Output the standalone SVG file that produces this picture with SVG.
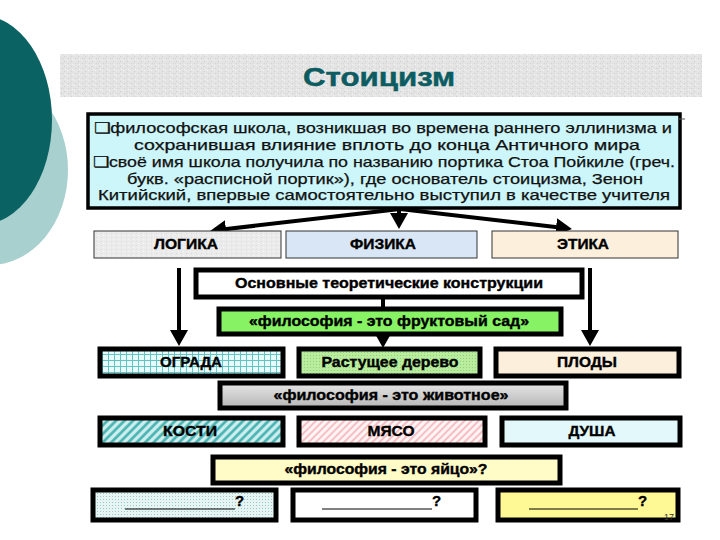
<svg xmlns="http://www.w3.org/2000/svg" width="720" height="540" viewBox="0 0 720 540">
<defs>
<style>
.lbl{font-family:"Liberation Sans",Arial,sans-serif;font-weight:bold;font-size:14px;fill:#000;stroke:#000;stroke-width:0.35;text-anchor:middle}
.q{font-family:"Liberation Sans",Arial,sans-serif;font-weight:bold;font-size:15px;fill:#000;stroke:#000;stroke-width:0.35}
.body{font-family:"Liberation Sans",Arial,sans-serif;font-size:14.5px;fill:#111;stroke:#111;stroke-width:0.25;text-anchor:middle}
.thick{stroke:#000;stroke-width:5}
.thin{stroke:#333;stroke-width:1}
.arr{stroke:#000;stroke-width:4;fill:none;marker-end:url(#ah)}
.ul{stroke:#000;stroke-width:1}
</style>
<marker id="ah" markerUnits="userSpaceOnUse" markerWidth="16" markerHeight="18" refX="8" refY="9" orient="auto">
<path d="M0,0 L16,9 L0,18 z" fill="#000"/>
</marker>
<pattern id="noise" width="7" height="5" patternUnits="userSpaceOnUse">
<rect width="7" height="5" fill="#e4e4e4"/>
<rect x="1" y="1" width="1" height="1" fill="#d0d0d0"/>
<rect x="4" y="0" width="1" height="1" fill="#f3f3f3"/>
<rect x="5" y="3" width="1" height="1" fill="#d3d3d3"/>
<rect x="2" y="4" width="1" height="1" fill="#f5f5f5"/>
<rect x="0" y="3" width="1" height="1" fill="#d7d7d7"/>
</pattern>
<pattern id="noise2" width="5" height="4" patternUnits="userSpaceOnUse">
<rect width="5" height="4" fill="#ebebeb"/>
<rect x="1" y="1" width="1" height="1" fill="#dadada"/>
<rect x="3" y="3" width="1" height="1" fill="#f6f6f6"/>
</pattern>
<pattern id="grid" width="6" height="6" patternUnits="userSpaceOnUse">
<rect width="6" height="6" fill="#e8fbfb"/>
<path d="M0,0.5 H6 M0.5,0 V6" stroke="#62c4c4" stroke-width="1"/>
</pattern>
<pattern id="mesh" width="3" height="3" patternUnits="userSpaceOnUse">
<rect width="3" height="3" fill="#b9ec9e"/>
<rect x="1" y="1" width="1" height="1" fill="#8fd473"/>
</pattern>
<pattern id="hatchT" width="6" height="6" patternUnits="userSpaceOnUse" patternTransform="rotate(45)">
<rect width="6" height="6" fill="#cdeeee"/>
<line x1="1.5" y1="0" x2="1.5" y2="6" stroke="#3fb0ae" stroke-width="2.5"/>
</pattern>
<pattern id="hatchP" width="5" height="5" patternUnits="userSpaceOnUse" patternTransform="rotate(45)">
<rect width="5" height="5" fill="#fff3f3"/>
<line x1="1" y1="0" x2="1" y2="5" stroke="#f2aab2" stroke-width="1.4"/>
</pattern>
<pattern id="dots" width="3" height="3" patternUnits="userSpaceOnUse">
<rect width="3" height="3" fill="#e6f4f4"/>
<rect x="1" y="1" width="1" height="1" fill="#9cc8c8"/>
</pattern>
<linearGradient id="gray" x1="0" y1="0" x2="0" y2="1">
<stop offset="0" stop-color="#e6e6e6"/>
<stop offset="1" stop-color="#b6b6b6"/>
</linearGradient>
</defs>

<rect width="720" height="540" fill="#fff"/>

<g id="decor">
<ellipse cx="-10" cy="170" rx="78" ry="95" fill="#a7d0cf"/>
<ellipse cx="-20" cy="120" rx="72" ry="105" fill="#0b6262"/>
</g>

<g id="title">
<rect x="60" y="54" width="642" height="43" fill="url(#noise)"/>
<text x="379" y="86" font-family="'Liberation Sans',Arial,sans-serif" font-weight="bold" font-size="26" fill="#0c5c62" stroke="#0c5c62" stroke-width="0.5" text-anchor="middle" textLength="152" lengthAdjust="spacingAndGlyphs">Стоицизм</text>
</g>

<g id="main">
<rect x="88" y="114" width="592" height="94" fill="#ccf6fa" stroke="#000" stroke-width="3.5"/>
<text class="body" x="383" y="133" textLength="578" lengthAdjust="spacingAndGlyphs">❑философская школа, возникшая во времена раннего эллинизма и</text>
<text class="body" x="387" y="150" textLength="506" lengthAdjust="spacingAndGlyphs">сохранившая влияние вплоть до конца Античного мира</text>
<text class="body" x="384" y="167" textLength="582" lengthAdjust="spacingAndGlyphs">❑своё имя школа получила по названию портика Стоа Пойкиле (греч.</text>
<text class="body" x="385" y="184" textLength="516" lengthAdjust="spacingAndGlyphs">букв. «расписной портик»), где основатель стоицизма, Зенон</text>
<text class="body" x="384" y="200" textLength="572" lengthAdjust="spacingAndGlyphs">Китийский, впервые самостоятельно выступил в качестве учителя</text>
<line x1="679" y1="119" x2="685" y2="119" stroke="#555" stroke-width="1"/>
</g>

<g id="connectors">
<line class="arr" x1="400" y1="209" x2="218" y2="230"/>
<line class="arr" x1="399" y1="209" x2="399" y2="221"/>
<line class="arr" x1="400" y1="209" x2="564" y2="228"/>
<line class="arr" x1="179" y1="268" x2="179" y2="338"/>
<line class="arr" x1="590" y1="268" x2="590" y2="338"/>
<line x1="383" y1="298" x2="383" y2="307" stroke="#000" stroke-width="4"/>
<line class="arr" x1="383" y1="335" x2="383" y2="340"/>
</g>

<g id="logika">
<rect x="94" y="231" width="187" height="27" fill="url(#noise2)" class="thin"/>
<text class="lbl" x="186" y="249" textLength="64" lengthAdjust="spacingAndGlyphs">ЛОГИКА</text>
</g>
<g id="fizika">
<rect x="286" y="231" width="191" height="27" fill="#d9e6f5" class="thin"/>
<text class="lbl" x="383" y="249" textLength="66" lengthAdjust="spacingAndGlyphs">ФИЗИКА</text>
</g>
<g id="etika">
<rect x="492" y="231" width="186" height="27" fill="#fcf0dd" class="thin"/>
<text class="lbl" x="583" y="249" textLength="52" lengthAdjust="spacingAndGlyphs">ЭТИКА</text>
</g>

<g id="osnovnye">
<rect x="196" y="270" width="386" height="27" fill="#fff" class="thick"/>
<text class="lbl" x="389" y="288" textLength="308" lengthAdjust="spacingAndGlyphs">Основные теоретические конструкции</text>
</g>
<g id="sad">
<rect x="219" y="309" width="342" height="25" fill="#86f264" class="thick"/>
<text class="lbl" x="389" y="326" textLength="280" lengthAdjust="spacingAndGlyphs">«философия - это фруктовый сад»</text>
</g>

<g id="ograda">
<rect x="100" y="349" width="183" height="27" fill="url(#grid)" class="thick"/>
<text class="lbl" x="191" y="367" textLength="62" lengthAdjust="spacingAndGlyphs">ОГРАДА</text>
</g>
<g id="derevo">
<rect x="299" y="349" width="181" height="27" fill="url(#mesh)" class="thick"/>
<text class="lbl" x="390" y="367" textLength="137" lengthAdjust="spacingAndGlyphs">Растущее дерево</text>
</g>
<g id="plody">
<rect x="496" y="349" width="183" height="27" fill="#fcf0dc" class="thick"/>
<text class="lbl" x="587" y="367" textLength="60" lengthAdjust="spacingAndGlyphs">ПЛОДЫ</text>
</g>

<g id="zhivotnoe">
<rect x="220" y="383" width="346" height="25" fill="url(#gray)" class="thick"/>
<text class="lbl" x="391" y="400" textLength="235" lengthAdjust="spacingAndGlyphs">«философия - это животное»</text>
</g>

<g id="kosti">
<rect x="100" y="418" width="183" height="27" fill="url(#hatchT)" class="thick"/>
<text class="lbl" x="190" y="436" textLength="54" lengthAdjust="spacingAndGlyphs">КОСТИ</text>
</g>
<g id="myaso">
<rect x="299" y="418" width="186" height="27" fill="url(#hatchP)" class="thick"/>
<text class="lbl" x="391" y="436" textLength="47" lengthAdjust="spacingAndGlyphs">МЯСО</text>
</g>
<g id="dusha">
<rect x="502" y="418" width="178" height="27" fill="#e2f8fb" class="thick"/>
<text class="lbl" x="592" y="436" textLength="47" lengthAdjust="spacingAndGlyphs">ДУША</text>
</g>

<g id="yaitso">
<rect x="213" y="457" width="347" height="26" fill="#fffcc8" class="thick"/>
<text class="lbl" x="386" y="474" textLength="203" lengthAdjust="spacingAndGlyphs">«философия - это яйцо»?</text>
</g>

<g id="q1">
<rect x="93" y="490" width="183" height="30" fill="url(#dots)" class="thick"/>
<line class="ul" x1="125" y1="509" x2="235" y2="509"/>
<text class="q" x="235" y="506">?</text>
</g>
<g id="q2">
<rect x="293" y="490" width="183" height="30" fill="#fff" class="thick"/>
<line class="ul" x1="322" y1="509" x2="432" y2="509"/>
<text class="q" x="432" y="506">?</text>
</g>
<g id="q3">
<rect x="498" y="490" width="180" height="30" fill="#fff995" class="thick"/>
<line class="ul" x1="529" y1="509" x2="638" y2="509"/>
<text class="q" x="638" y="506">?</text>
<text x="664" y="520" font-family="'Liberation Sans',Arial,sans-serif" font-size="9" fill="#333">17</text>
</g>
</svg>
